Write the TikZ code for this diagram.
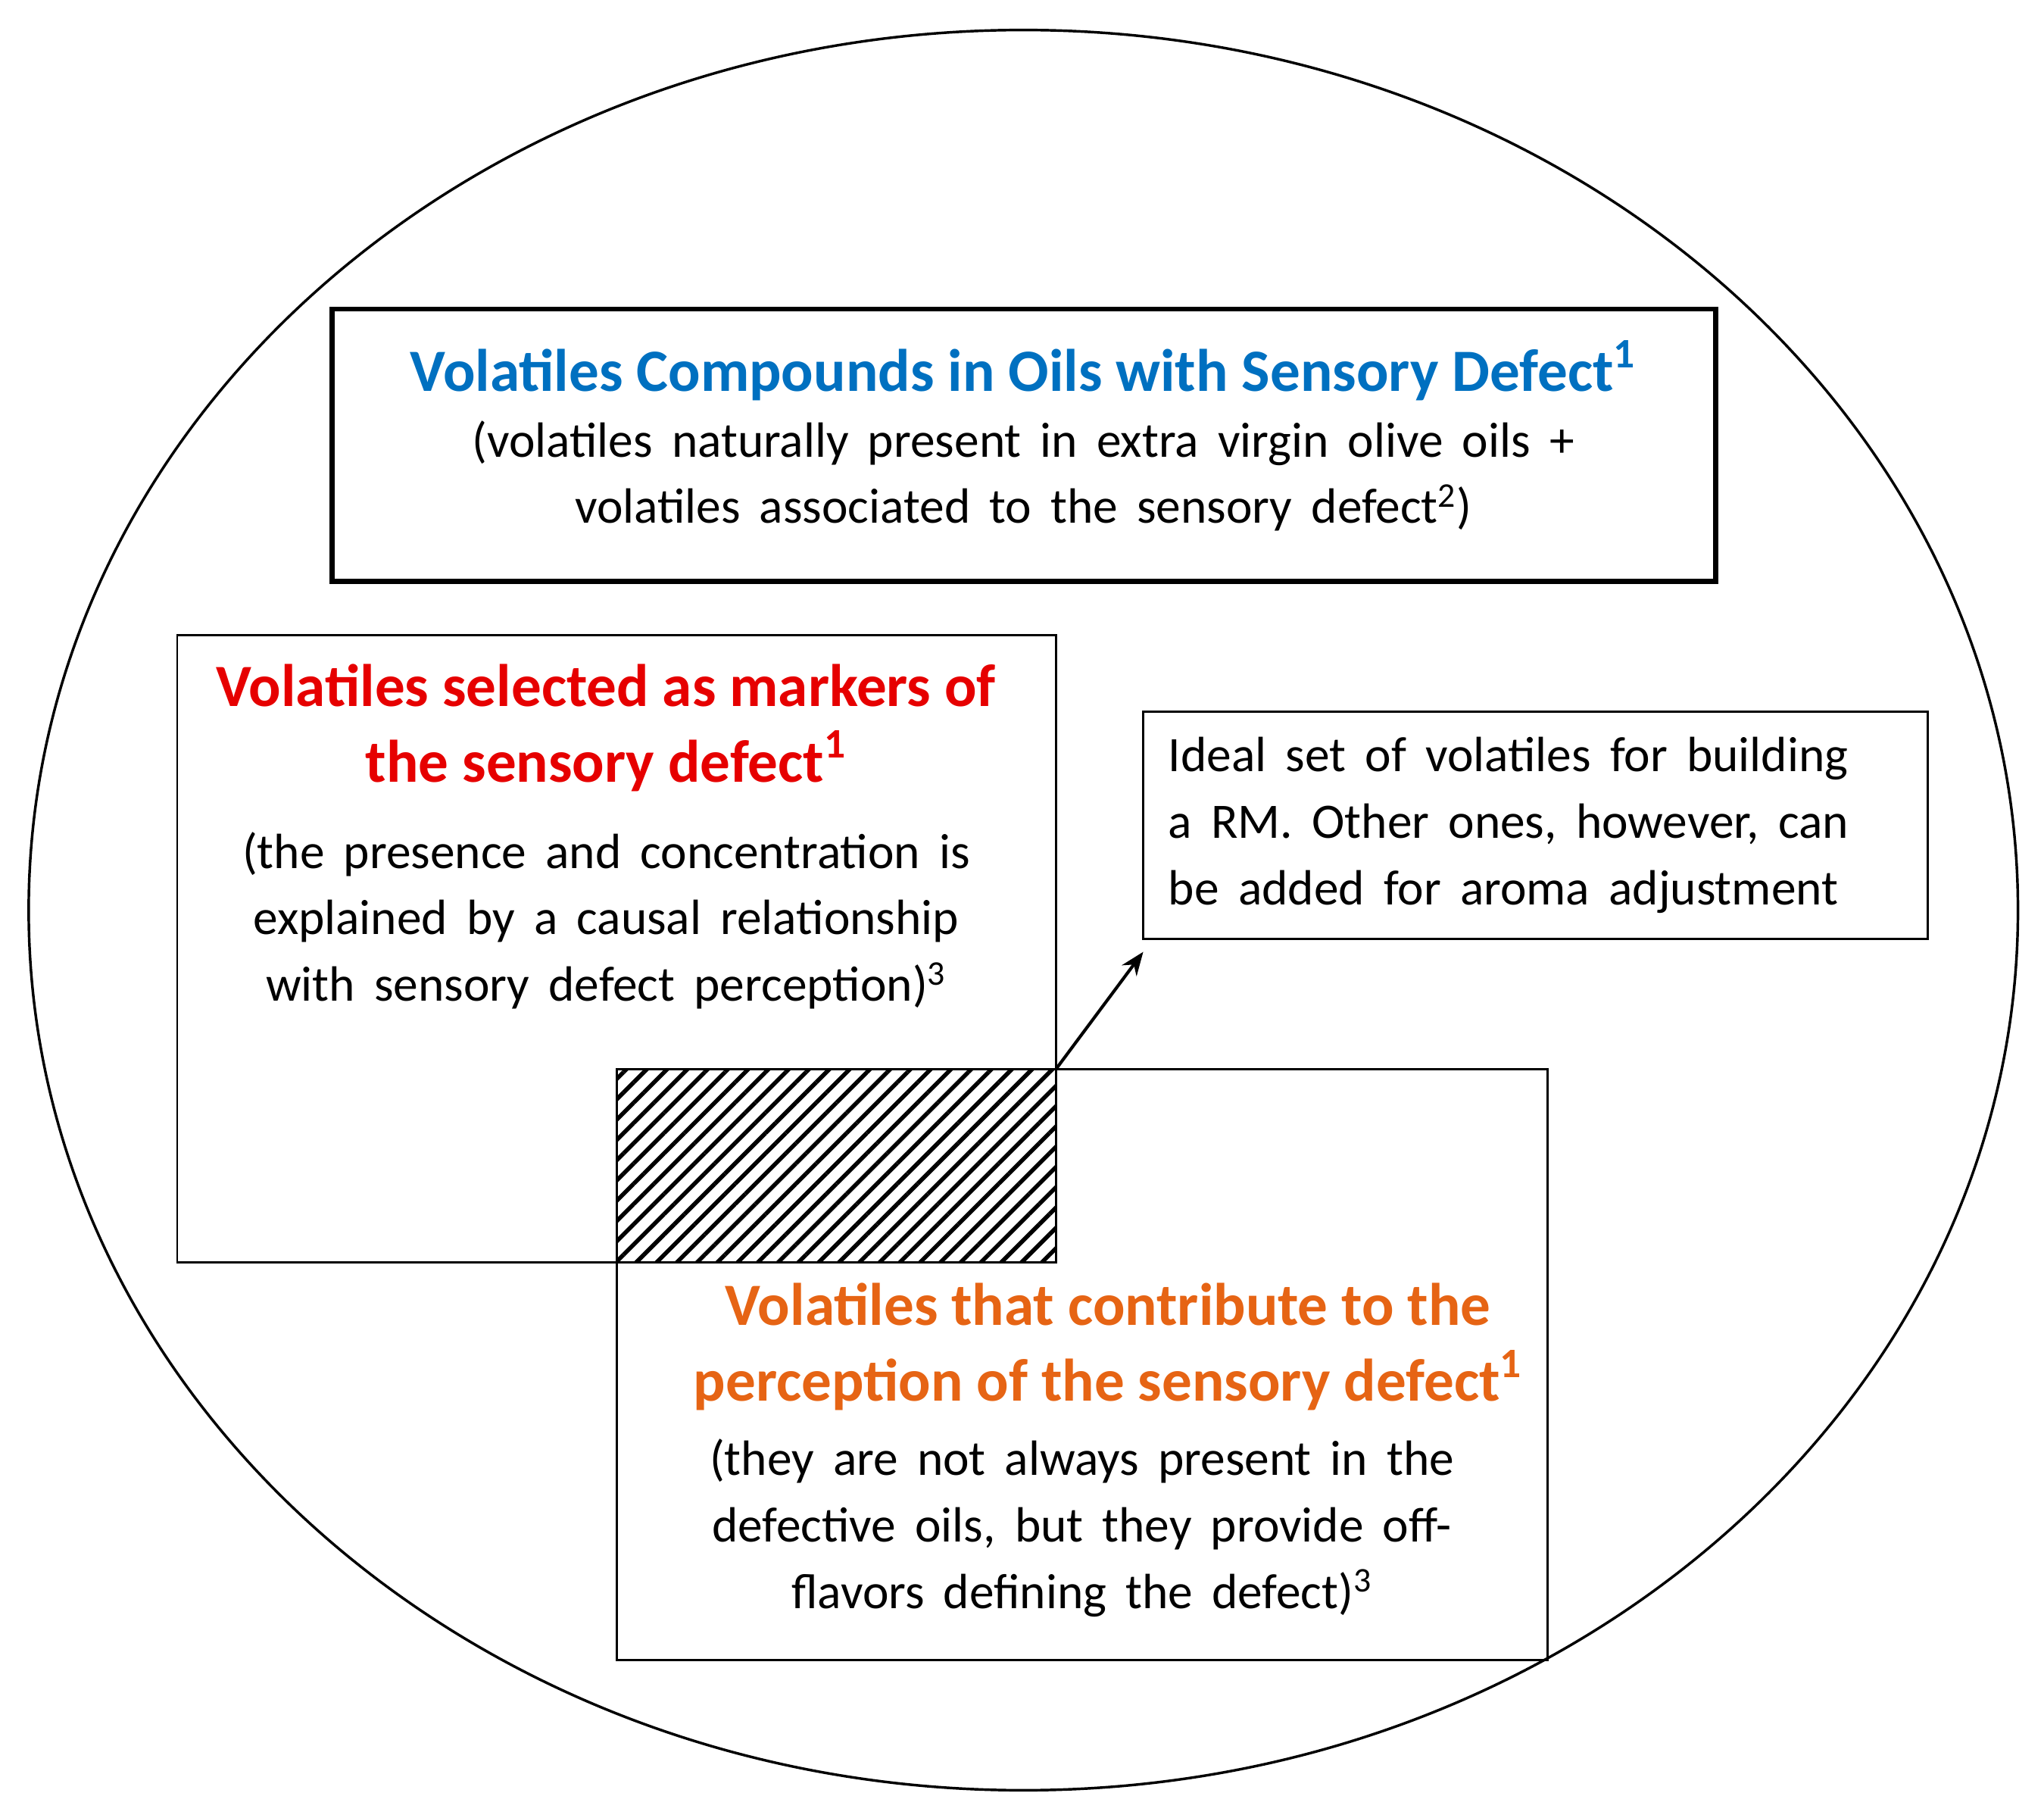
\documentclass[tikz,border=0pt]{standalone}
\usepackage{fontspec}
\setmainfont{Carlito}[WordSpace=1.7]
\newfontfamily\ttlfont{Carlito}[WordSpace=1.0]
\usetikzlibrary{patterns.meta,arrows.meta,shapes.geometric}
\definecolor{cblue}{RGB}{0,112,192}
\definecolor{cred}{RGB}{230,0,0}
\definecolor{corange}{RGB}{230,100,20}
\begin{document}
\begin{tikzpicture}[x=0.5pt,y=-0.5pt,
  box/.style={draw,line width=0.8pt,inner sep=0pt},
  txt/.style={align=center,font=\fontsize{19}{25.5}\selectfont,inner sep=0pt},
  ttl/.style={align=center,font=\ttlfont\fontsize{23}{29}\selectfont\bfseries,inner sep=0pt}]
\useasboundingbox (0,0) rectangle (1568,1394);
\node[draw,line width=1pt,ellipse,minimum width=763pt,minimum height=675pt,inner sep=0pt] (ell) at (785,698) {};
\draw[line width=2pt] (255,237) rectangle (1316,446);
\node[ttl,text=cblue] (t1) at (785,284) {Volatiles Compounds in Oils with Sensory Defect\textsuperscript{1}};
\node[txt] (b1) at (785,365) {(volatiles naturally present in extra virgin olive oils +\\volatiles associated to the sensory defect\textsuperscript{2})};
\draw[line width=0.8pt] (136,487) rectangle (810,968);
\node[ttl,text=cred] (t2) at (465,558) {Volatiles selected as markers of\\the sensory defect\textsuperscript{1}};
\node[txt] (b2) at (465,706) {(the presence and concentration is\\explained by a causal relationship\\with sensory defect perception)\textsuperscript{3}};
\draw[line width=0.8pt] (473,820) rectangle (1187,1273);
\fill[pattern={Lines[angle=45,distance=5.5pt,line width=1.6pt]}] (473,820) rectangle (810,968);
\draw[line width=0.8pt] (473,820) rectangle (810,968);
\node[ttl,text=corange] (t3) at (850,1033) {Volatiles that contribute to the\\perception of the sensory defect\textsuperscript{1}};
\node[txt] (b3) at (830,1172) {(they are not always present in the\\defective oils, but they provide off-\\flavors defining the defect)\textsuperscript{3}};
\node[box,minimum width=301pt,minimum height=87pt] (rm) at (1178,633) {};
\node[txt,align=left,anchor=west] (rmt) at (896,633) {Ideal set of volatiles for building\\a RM. Other ones, however, can\\be added for aroma adjustment};
\coordinate (corner) at (810,820);
\coordinate (tip) at (877,730);
\draw[line width=1.2pt,-{Stealth[length=9pt,width=7pt]}] (corner) -- (tip);
\end{tikzpicture}
\end{document}
